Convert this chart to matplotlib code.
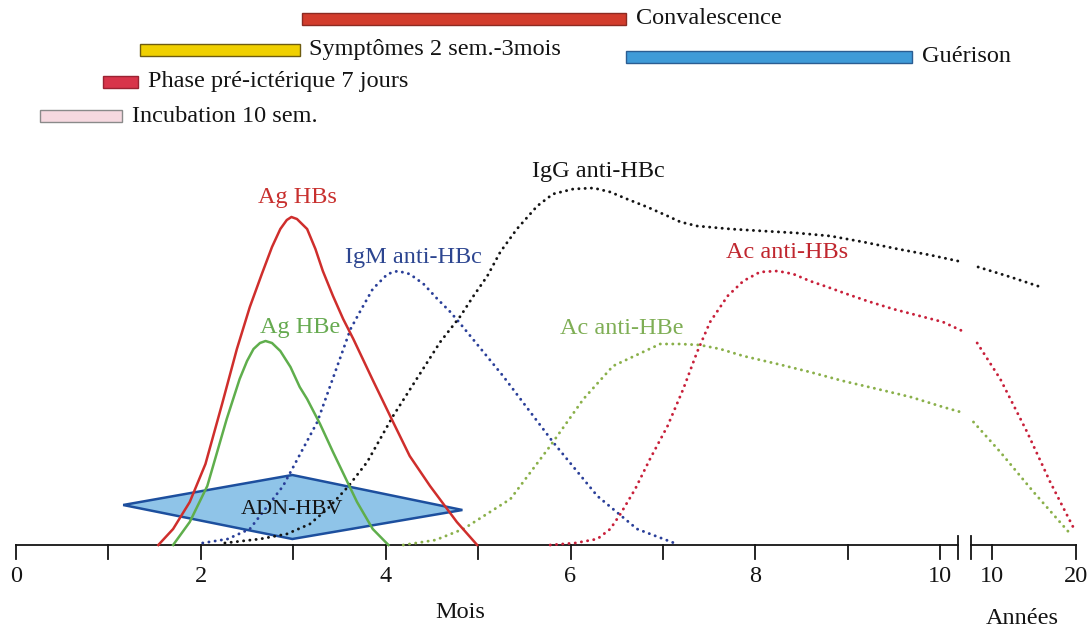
"""Hepatitis B serology timeline (schematic) recreated with matplotlib."""

import matplotlib
matplotlib.use("Agg")
import matplotlib.pyplot as plt
from matplotlib.patches import Polygon

plt.rcParams["font.family"] = ["Liberation Serif", "DejaVu Serif"]

# x positions are in months (0-10); past the axis break the same scale runs
# on into the compressed "Années" part (10 years at 10.56, 20 years at 11.47).
# y is a relative level above the time axis.

# phase bars at the top
PHASES = ["Convalescence", "Symptômes 2 sem.-3mois", "Guérison",
          "Phase pré-ictérique 7 jours", "Incubation 10 sem."]
PHASE_START = [3.10, 1.34, 6.60, 0.94, 0.26]
PHASE_END = [6.60, 3.07, 9.70, 1.32, 1.15]
PHASE_LEVEL = [5.26, 4.95, 4.88, 4.63, 4.29]
PHASE_FILL = ["#d23c2c", "#f0d000", "#3f9bd8", "#d8344a", "#f6d9e0"]
PHASE_EDGE = ["#8c2a22", "#6e5c10", "#2b5d92", "#9a2232", "#8a8a8a"]

# solid curves
AGHBS_X = [1.54, 1.70, 1.88, 2.05, 2.23, 2.39, 2.53, 2.66, 2.77, 2.86, 2.93,
           2.98, 3.04, 3.15, 3.24, 3.32, 3.43, 3.54, 3.65, 3.86, 4.08, 4.26,
           4.48, 4.77, 4.99]
AGHBS_Y = [0.00, 0.16, 0.43, 0.81, 1.41, 1.96, 2.38, 2.71, 2.98, 3.16, 3.25,
           3.28, 3.26, 3.16, 2.96, 2.74, 2.49, 2.26, 2.06, 1.65, 1.23, 0.89,
           0.59, 0.23, 0.00]

AGHBE_X = [1.70, 1.88, 2.07, 2.28, 2.42, 2.50, 2.57, 2.64, 2.70, 2.77, 2.86,
           2.97, 3.07, 3.15, 3.29, 3.43, 3.56, 3.69, 3.86, 4.03]
AGHBE_Y = [0.00, 0.23, 0.59, 1.26, 1.66, 1.84, 1.96, 2.02, 2.04, 2.02, 1.94,
           1.78, 1.58, 1.46, 1.21, 0.93, 0.68, 0.43, 0.16, 0.00]

# dotted curves
IGM_X = [2.02, 2.29, 2.53, 2.89, 3.26, 3.62, 3.72, 3.86, 4.02, 4.13, 4.26,
         4.41, 4.56, 4.70, 4.81, 5.27, 5.81, 6.29, 6.72, 7.15]
IGM_Y = [0.02, 0.06, 0.16, 0.59, 1.23, 2.16, 2.33, 2.56, 2.71, 2.74, 2.71,
         2.61, 2.46, 2.33, 2.21, 1.69, 1.03, 0.49, 0.16, 0.01]

IGG_X = [2.26, 2.64, 2.93, 3.18, 3.37, 3.59, 3.80, 4.08, 4.59, 4.81, 4.95,
         5.10, 5.24, 5.42, 5.64, 5.81, 6.03, 6.25, 6.43, 6.61, 6.83, 7.05,
         7.19, 7.37, 7.73, 8.08, 8.45, 8.81, 9.17, 9.54, 9.89, 10.24]
IGG_Y = [0.02, 0.06, 0.11, 0.21, 0.36, 0.58, 0.83, 1.29, 2.03, 2.29, 2.49,
         2.69, 2.93, 3.16, 3.39, 3.51, 3.56, 3.57, 3.53, 3.46, 3.38, 3.29,
         3.23, 3.19, 3.16, 3.14, 3.12, 3.09, 3.03, 2.96, 2.90, 2.83]
IGG_TAIL_X = [10.41, 10.76, 11.12]
IGG_TAIL_Y = [2.78, 2.68, 2.57]

ACHBS_X = [5.78, 6.05, 6.29, 6.43, 6.54, 6.70, 6.86, 7.05, 7.22, 7.37, 7.51,
           7.70, 7.87, 8.05, 8.24, 8.41, 8.59, 8.78, 8.99, 9.21, 9.49, 9.78,
           10.03, 10.24]
ACHBS_Y = [0.00, 0.02, 0.06, 0.16, 0.31, 0.56, 0.86, 1.19, 1.56, 1.93, 2.23,
           2.49, 2.64, 2.73, 2.74, 2.71, 2.64, 2.58, 2.51, 2.44, 2.36, 2.29,
           2.23, 2.14]
ACHBS_TAIL_X = [10.40, 10.65, 10.94, 11.19, 11.46]
ACHBS_TAIL_Y = [2.02, 1.66, 1.13, 0.63, 0.14]

ACHBE_X = [4.19, 4.54, 4.84, 5.35, 5.78, 6.14, 6.46, 6.97, 7.19, 7.40, 7.62,
           7.87, 8.24, 8.59, 8.95, 9.32, 9.68, 10.03, 10.22]
ACHBE_Y = [0.00, 0.05, 0.16, 0.46, 0.99, 1.46, 1.79, 2.01, 2.01, 2.00, 1.96,
           1.89, 1.81, 1.73, 1.64, 1.56, 1.48, 1.38, 1.33]
ACHBE_TAIL_X = [10.36, 10.65, 11.01, 11.39]
ACHBE_TAIL_Y = [1.23, 0.93, 0.53, 0.13]

# ADN-HBV diamond: left, top, right, bottom
ADN_X = [1.16, 2.99, 4.83, 2.99]
ADN_Y = [0.40, 0.70, 0.35, 0.06]

# axis
MONTH_TICKS = list(range(0, 11))
MONTH_LABELS = ["0", "", "2", "", "4", "", "6", "", "8", "", "10"]
YEAR_POS = [10.56, 11.47]
YEAR_LABELS = ["10", "20"]
BREAK_POS = [10.19, 10.33]

RED, GREEN, BLUE, INK = "#cf2e2c", "#5fae4c", "#2a3f99", "#141414"
DRED, DGREEN = "#c8203a", "#8ab04a"
FS = 17.5

fig = plt.figure(figsize=(10.89, 6.34), dpi=100)
ax = fig.add_axes([0, 0, 1, 1])
ax.set_xlim(-0.173, 11.61)
ax.set_ylim(-0.89, 5.45)
ax.axis("off")

# phase bars
ax.barh(PHASE_LEVEL, [e - s for s, e in zip(PHASE_START, PHASE_END)],
        left=PHASE_START, height=0.12, color=PHASE_FILL,
        edgecolor=PHASE_EDGE, linewidth=1.0)
for name, end, lev in zip(PHASES, PHASE_END, PHASE_LEVEL):
    ax.annotate(name, (end, lev), xytext=(7, 0), textcoords="offset points",
                ha="left", va="center", fontsize=FS, color=INK)

# diamond
ax.add_patch(Polygon(list(zip(ADN_X, ADN_Y)), closed=True, facecolor="#8fc4e8",
                     edgecolor="#1d4f9e", linewidth=1.8, zorder=1))
ax.text(2.99, 0.35, "ADN-HBV", ha="center", va="center", fontsize=16,
        color=INK, zorder=5)

# curves
solid = dict(linewidth=1.8, solid_joinstyle="round", zorder=4)
dot = dict(linestyle=(0, (0.05, 2.1)), dash_capstyle="round", linewidth=2.1,
           zorder=3)
ax.plot(AGHBS_X, AGHBS_Y, color=RED, **solid)
ax.plot(AGHBE_X, AGHBE_Y, color=GREEN, **solid)
ax.plot(IGM_X, IGM_Y, color=BLUE, **dot)
ax.plot(IGG_X, IGG_Y, color=INK, **dot)
ax.plot(IGG_TAIL_X, IGG_TAIL_Y, color=INK, **dot)
ax.plot(ACHBS_X, ACHBS_Y, color=DRED, **dot)
ax.plot(ACHBS_TAIL_X, ACHBS_TAIL_Y, color=DRED, **dot)
ax.plot(ACHBE_X, ACHBE_Y, color=DGREEN, **dot)
ax.plot(ACHBE_TAIL_X, ACHBE_TAIL_Y, color=DGREEN, **dot)

# curve labels
ax.text(3.04, 3.48, "Ag HBs", color="#c8302e", fontsize=FS, ha="center", va="center")
ax.text(3.07, 2.18, "Ag HBe", color="#66aa50", fontsize=FS, ha="center", va="center")
ax.text(4.30, 2.88, "IgM anti-HBc", color="#2c4590", fontsize=FS, ha="center", va="center")
ax.text(6.30, 3.73, "IgG anti-HBc", color=INK, fontsize=FS, ha="center", va="center")
ax.text(6.55, 2.17, "Ac anti-HBe", color="#7fae55", fontsize=FS, ha="center", va="center")
ax.text(8.34, 2.93, "Ac anti-HBs", color="#c0262e", fontsize=FS, ha="center", va="center")

# time axis with break
ax.plot([0, BREAK_POS[0]], [0, 0], color=INK, linewidth=1.3, zorder=2)
ax.plot([BREAK_POS[1], YEAR_POS[-1]], [0, 0], color=INK, linewidth=1.3, zorder=2)
for b in BREAK_POS:
    ax.plot([b, b], [0.09, -0.14], color=INK, linewidth=1.3)
for t, lab in zip(MONTH_TICKS, MONTH_LABELS):
    ax.plot([t, t], [0, -0.14], color=INK, linewidth=1.3)
    ax.text(t, -0.32, lab, ha="center", va="center", fontsize=FS, color=INK)
for t, lab in zip(YEAR_POS, YEAR_LABELS):
    ax.plot([t, t], [0, -0.14], color=INK, linewidth=1.3)
    ax.text(t, -0.32, lab, ha="center", va="center", fontsize=FS, color=INK)
ax.text(4.81, -0.67, "Mois", ha="center", va="center", fontsize=FS, color=INK)
ax.text(10.89, -0.74, "Années", ha="center", va="center", fontsize=FS, color=INK)

fig.savefig("out.png", dpi=100, facecolor="white")
